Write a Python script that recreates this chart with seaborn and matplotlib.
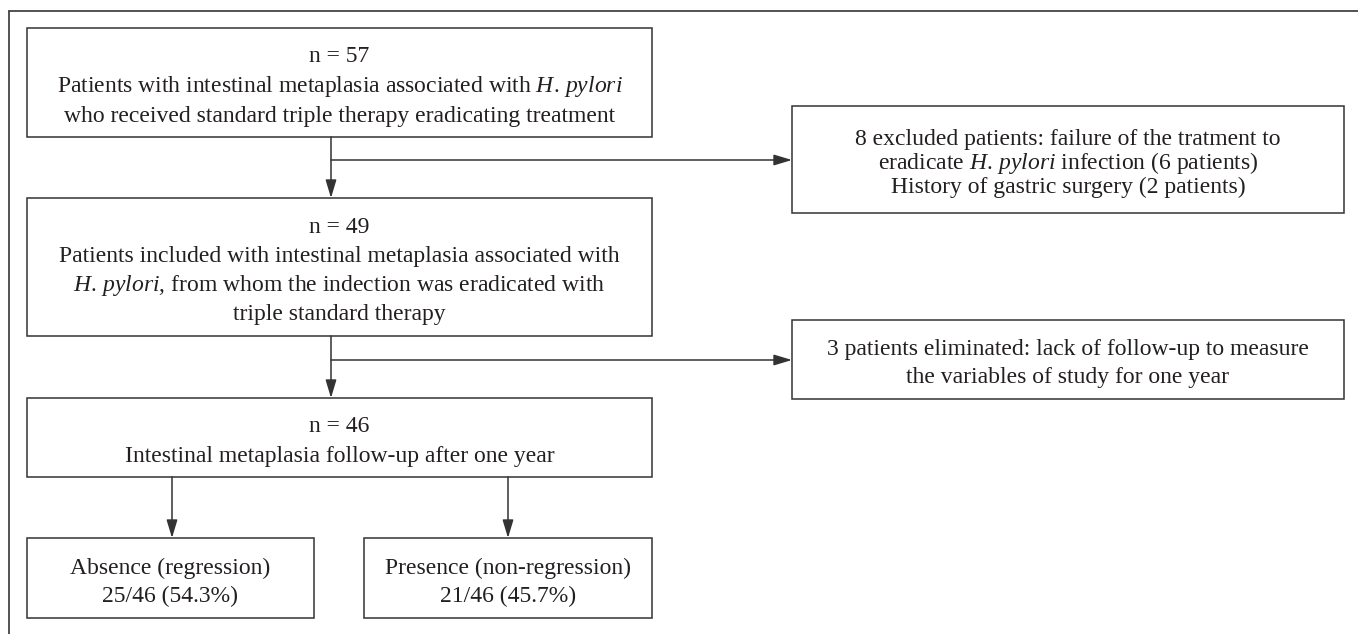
import matplotlib
matplotlib.use("Agg")
import matplotlib.pyplot as plt
from matplotlib.patches import Rectangle
import seaborn as sns

# Flow counts (patients)
n_start = 57
n_included = 49
n_followup = 46
excluded_failure = 6
excluded_surgery = 2
eliminated = 3
n_regression = 25
n_non_regression = 21

HP = r"$\it{H.\,pylori}$"

# Text of each box, one entry per line
box_start = [f"n = {n_start}",
             f"Patients with intestinal metaplasia associated with {HP}",
             "who received standard triple therapy eradicating treatment"]
box_included = [f"n = {n_included}",
                "Patients included with intestinal metaplasia associated with",
                f"{HP}, from whom the indection was eradicated with",
                "triple standard therapy"]
box_followup = [f"n = {n_followup}",
                "Intestinal metaplasia follow-up after one year"]
box_excluded = [f"{excluded_failure + excluded_surgery} excluded patients: failure of the tratment to",
                f"eradicate {HP} infection ({excluded_failure} patients)",
                f"History of gastric surgery ({excluded_surgery} patients)"]
box_eliminated = [f"{eliminated} patients eliminated: lack of follow-up to measure",
                  "the variables of study for one year"]
box_regression = ["Absence (regression)",
                  f"{n_regression}/{n_followup} ({100 * n_regression / n_followup:.1f}%)"]
box_non_regression = ["Presence (non-regression)",
                      f"{n_non_regression}/{n_followup} ({100 * n_non_regression / n_followup:.1f}%)"]

# Layout in pixel units: (left, top, right, bottom, line spacing)
LAYOUT = {
    "start": (27, 28, 652, 137, 30),
    "included": (27, 198, 652, 336, 29),
    "followup": (27, 398, 652, 477, 30),
    "excluded": (792, 106, 1344, 213, 24),
    "eliminated": (792, 320, 1344, 399, 29),
    "regression": (27, 538, 314, 618, 28),
    "non_regression": (364, 538, 652, 618, 28),
}
LINE_COLOR = "#333333"
TEXT_COLOR = "#231f20"
FONT_SIZE = 17
TEXT_SHIFT = 4  # glyphs sit a little lower than the bbox centre

sns.set_theme(style="white")
plt.rcParams["font.family"] = ["Liberation Serif", "DejaVu Serif"]
plt.rcParams["mathtext.fontset"] = "custom"
plt.rcParams["mathtext.rm"] = "Liberation Serif"
plt.rcParams["mathtext.it"] = "Liberation Serif:italic"

fig = plt.figure(figsize=(13.58, 6.34), dpi=100)
ax = fig.add_axes([0, 0, 1, 1])
ax.set_xlim(0, 1358)
ax.set_ylim(634, 0)
ax.axis("off")


def draw_box(key, lines):
    x0, y0, x1, y1, step = LAYOUT[key]
    ax.add_patch(Rectangle((x0, y0), x1 - x0, y1 - y0, facecolor="white",
                           edgecolor=LINE_COLOR, lw=1.1))
    cx, cy = (x0 + x1) / 2, (y0 + y1) / 2 + TEXT_SHIFT
    first = cy - step * (len(lines) - 1) / 2
    for i, s in enumerate(lines):
        ax.text(cx, first + i * step, s, ha="center", va="center",
                fontsize=FONT_SIZE, color=TEXT_COLOR)


def arrow(p_from, p_to):
    ax.annotate("", xy=p_to, xytext=p_from,
                arrowprops=dict(arrowstyle="-|>,head_length=1.1,head_width=0.33",
                                mutation_scale=10, color=LINE_COLOR, lw=1.1,
                                shrinkA=0, shrinkB=0))


# outer frame (top and left edges only)
ax.plot([9, 1358], [11, 11], color="#444444", lw=1.3)
ax.plot([9, 9], [11, 634], color="#444444", lw=1.3)

draw_box("start", box_start)
draw_box("included", box_included)
draw_box("followup", box_followup)
draw_box("excluded", box_excluded)
draw_box("eliminated", box_eliminated)
draw_box("regression", box_regression)
draw_box("non_regression", box_non_regression)

main_x = 331
arrow((main_x, LAYOUT["start"][3]), (main_x, LAYOUT["included"][1]))
arrow((main_x, 160), (LAYOUT["excluded"][0], 160))
arrow((main_x, LAYOUT["included"][3]), (main_x, LAYOUT["followup"][1]))
arrow((main_x, 360), (LAYOUT["eliminated"][0], 360))
arrow((172, LAYOUT["followup"][3]), (172, LAYOUT["regression"][1]))
arrow((508, LAYOUT["followup"][3]), (508, LAYOUT["non_regression"][1]))

fig.savefig("out.png", dpi=100, facecolor="white")
